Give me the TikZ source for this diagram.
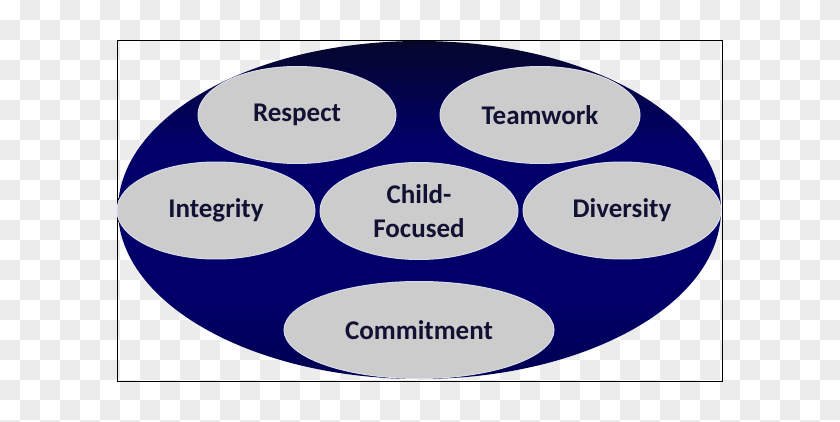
\documentclass[tikz,border=0pt]{standalone}
\usepackage{fontspec}
\setmainfont{Carlito}
\usetikzlibrary{shapes.geometric}

\definecolor{checkgrey}{HTML}{ECECEC}
\definecolor{navytop}{HTML}{06062C}
\definecolor{navymid}{HTML}{000068}
\definecolor{navybot}{HTML}{000050}
\definecolor{valuefill}{HTML}{CCCCCC}
\definecolor{valueedge}{HTML}{D9DCE8}
\definecolor{valuetext}{HTML}{111133}

\pgfdeclareverticalshading{ringshade}{100bp}{color(0bp)=(navybot); color(25bp)=(navybot);
  color(36bp)=(navymid); color(60bp)=(navymid); color(75bp)=(navytop); color(100bp)=(navytop)}

\tikzset{
  value/.style={ellipse, draw=valueedge, line width=1pt, fill=valuefill,
    minimum width=198pt, minimum height=97pt, inner sep=0pt, align=center,
    text=valuetext, font=\fontsize{27}{34}\selectfont\bfseries},
}

\begin{document}
\begin{tikzpicture}[x=1pt, y=-1pt]
\useasboundingbox (0,0) rectangle (840,422);
% transparent backdrop
\fill[white] (0,0) rectangle (840,422);
\foreach\i in {0,1,...,41}
  \foreach\j in {0,1,...,21}
    {
    \pgfmathtruncatemacro\odd{mod(\i+\j,2)}
    \ifnum\odd=1
      \fill[checkgrey] (20*\i,20*\j) rectangle (20*\i+20,20*\j+20);
    \fi
    }

\draw[black, line width=1pt] (117,40.5) rectangle (722,381);

\node[ellipse, minimum width=603pt, minimum height=338pt, inner sep=0pt,
  shading=ringshade] (ring) at (419.5,210) {};

\node[value] (respect) at (297,115) {Respect};
\node[value, minimum width=200pt] (teamwork) at (540,115) {Teamwork};
\node[value] (integrity) at (216,210.5) {Integrity};
\node[value] (child) at (419,211) {Child-\\Focused};
\node[value] (diversity) at (622,210.5) {Diversity};
\node[value, minimum width=270pt] (commitment) at (419,330) {Commitment};

\end{tikzpicture}
\end{document}
